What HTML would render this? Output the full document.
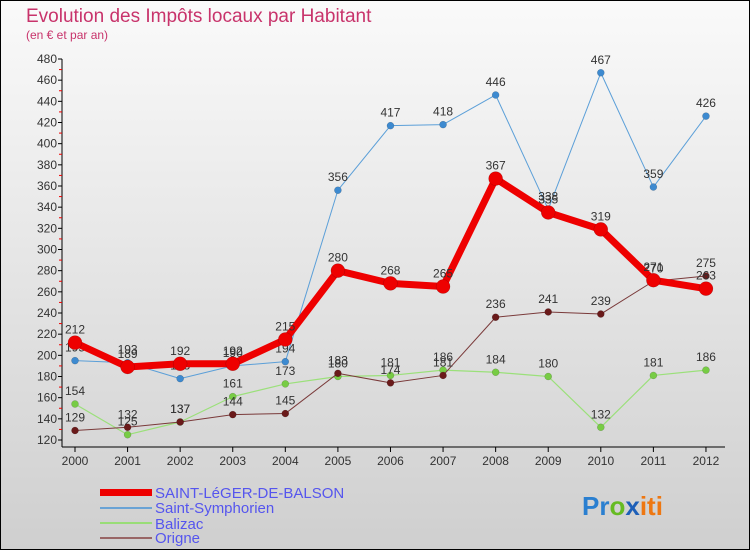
<!DOCTYPE html>
<html><head><meta charset="utf-8"><style>
html,body{margin:0;padding:0}
body{width:750px;height:550px;overflow:hidden;font-family:"Liberation Sans",sans-serif}
</style></head><body>
<svg id="c" width="750" height="550" xmlns="http://www.w3.org/2000/svg">
<defs><linearGradient id="bg" x1="0" y1="0" x2="0" y2="1"><stop offset="0" stop-color="#fafafa"/><stop offset="1" stop-color="#cfcfcf"/></linearGradient></defs>
<rect x="0.5" y="0.5" width="749" height="549" fill="url(#bg)" stroke="#000"/>
<text x="26" y="22" font-size="19" fill="#c8336b">Evolution des Impôts locaux par Habitant</text>
<text x="26" y="39" font-size="12" fill="#c8336b">(en € et par an)</text>
<g id="axes"></g><g id="series"></g>
<g font-size="15" fill="#5555ee">
<rect x="100" y="489" width="52" height="7" fill="#ee0000"/>
<text x="155" y="498">SAINT-LéGER-DE-BALSON</text>
<rect x="100" y="507" width="52" height="2" fill="#6aa3d5"/>
<text x="155" y="513">Saint-Symphorien</text>
<rect x="100" y="522" width="52" height="2" fill="#99dd77"/>
<text x="155" y="529">Balizac</text>
<rect x="100" y="537" width="52" height="2" fill="#996666"/>
<text x="155" y="543">Origne</text>
</g>
<text x="582" y="515" font-size="26" font-weight="bold"><tspan fill="#2a7fd0">Pr</tspan><tspan fill="#66bb22">o</tspan><tspan fill="#1d5fb8">x</tspan><tspan fill="#ee7711">iti</tspan></text>
</svg>
<script>
const years=["2000","2001","2002","2003","2004","2005","2006","2007","2008","2009","2010","2011","2012"];
const yTicks=[120,140,160,180,200,220,240,260,280,300,320,340,360,380,400,420,440,460,480];
const leger=[212,189,192,192,215,280,268,265,367,335,319,271,263];
const symph=[195,193,178,190,194,356,417,418,446,338,467,359,426];
const baliz=[154,125,137,161,173,180,181,186,184,180,132,181,186];
const origne=[129,132,137,144,145,183,174,181,236,241,239,270,275];
const NS="http://www.w3.org/2000/svg";
const X=i=>75+i*52.58;
const Y=v=>440-(v-120)*(381/360);
function mk(t,a,p){const e=document.createElementNS(NS,t);for(const k in a)e.setAttribute(k,a[k]);p.appendChild(e);return e;}
const ax=document.getElementById('axes');
let l=mk('line',{x1:62,y1:59,x2:62,y2:447,stroke:'#000'},ax);


l=mk('line',{x1:62,y1:447,x2:725,y2:447,stroke:'#000'},ax);


yTicks.forEach((v,i)=>{
  const y=Y(v);
  mk('line',{x1:58,y1:y,x2:62,y2:y,stroke:'#000'},ax);
  if(i<yTicks.length-1) mk('line',{x1:59,y1:Y(v+10),x2:62,y2:Y(v+10),stroke:'#e00'},ax);
  const t=mk('text',{x:57,y:y+4,'font-size':12,'text-anchor':'end',fill:'#333'},ax);
  t.textContent=v;
  
  
});
years.forEach((yr,i)=>{
  mk('line',{x1:X(i),y1:447,x2:X(i),y2:452,stroke:'#000'},ax);
  const t=mk('text',{x:X(i),y:465,'font-size':12,'text-anchor':'middle',fill:'#333'},ax);
  t.textContent=yr;
  
  
});
const sg=document.getElementById('series');
function draw(vals,name,color,w,r,dot){
  const g=mk('g',{},sg);
  
  
  const p=mk('polyline',{points:vals.map((v,i)=>X(i)+','+Y(v)).join(' '),fill:'none',stroke:color,'stroke-width':w,'stroke-linejoin':'round'},g);
  
  
  vals.forEach((v,i)=>{
    const c=mk('circle',{cx:X(i),cy:Y(v),r:r,fill:dot,stroke:'rgba(0,0,0,0.25)','stroke-width':0.5},g);
    
    
    const t=mk('text',{x:X(i),y:Y(v)-9,'font-size':12,'text-anchor':'middle',fill:'#333'},g);
    t.textContent=v;
    
    
  });
}
draw(symph,'saint-symphorien','#5b9fd8',1,3.5,'#3d8ad0');
draw(baliz,'balizac','#9be07a',1.2,3.5,'#77cc44');
draw(origne,'origne','#7a3a3a',1,3.5,'#6a1a1a');
draw(leger,'saint-leger','#ee0000',7,7,'#ee0000');
</script>
</body></html>
